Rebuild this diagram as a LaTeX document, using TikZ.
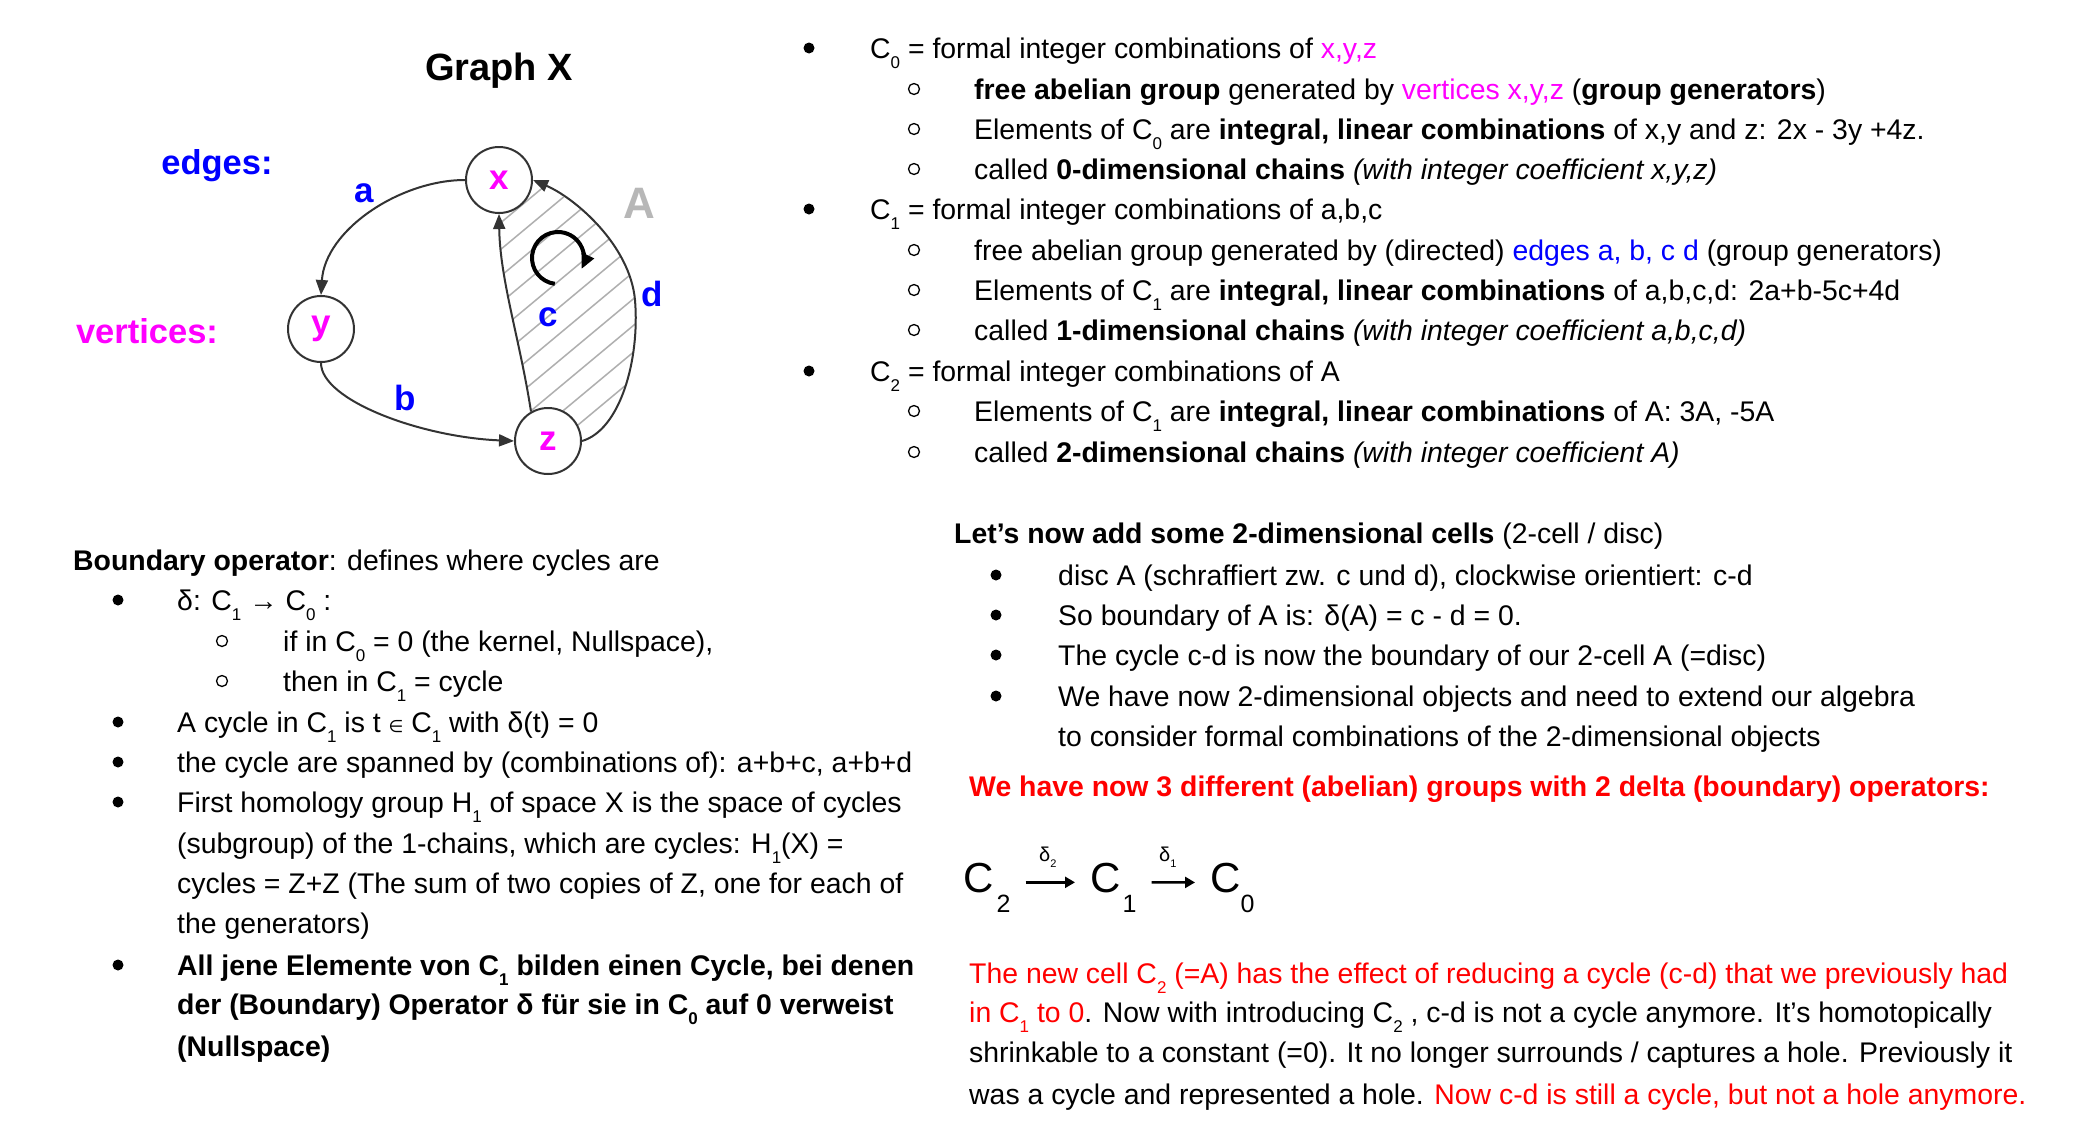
\documentclass[tikz,border=0pt]{standalone}
\usepackage{fontspec}
\setmainfont{Liberation Sans}
\newfontfamily\symfont{DejaVu Sans}
\usetikzlibrary{arrows.meta,backgrounds,calc}

\definecolor{mag}{RGB}{255,0,255}
\definecolor{blu}{RGB}{0,0,255}
\definecolor{rd}{RGB}{255,0,0}
\definecolor{edgegray}{RGB}{51,51,51}
\definecolor{hatchgray}{RGB}{175,175,175}
\definecolor{cellgray}{RGB}{183,183,183}

% lowered index as used in C_0, C_1, H_1
\newcommand{\lowsub}[1]{\raisebox{-10pt}{\fontsize{17}{17}\selectfont #1}}
\newcommand{\elem}{{\symfont\fontsize{17}{17}\selectfont ∈}}

\tikzset{
  body/.style={anchor=mid west, inner sep=0pt, yshift=-4pt, font=\fontsize{28.4}{40}\selectfont},
  dotb/.style={circle, fill=black, inner sep=0pt, minimum size=11pt, yshift=4pt},
  ringb/.style={circle, draw=black, line width=1.3pt, inner sep=0pt, minimum size=11pt, yshift=4pt},
  vtx/.style={circle, draw=edgegray, line width=2pt, fill=white, minimum size=66pt,
    inner sep=0pt, text=mag, font=\fontsize{35}{35}\selectfont\bfseries},
  elabel/.style={text=blu, inner sep=0pt, font=\fontsize{35}{35}\selectfont\bfseries},
  kindlabel/.style={inner sep=0pt, font=\fontsize{34.5}{35}\selectfont\bfseries},
  edge/.style={draw=edgegray, line width=2pt, -{Triangle[length=15pt,width=12pt]}},
  hatch/.style={draw=hatchgray, line width=1.5pt},
  orient/.style={draw=black, line width=4pt, -{Triangle[length=15pt,width=13pt]}},
  bigC/.style={anchor=base west, inner sep=0pt, font=\fontsize{42}{42}\selectfont},
  chainarr/.style={draw=black, line width=2.4pt, shorten <=15pt, shorten >=15pt,
    -{Triangle[length=10pt,width=11pt]}},
  deltalbl/.style={anchor=base west, inner sep=0pt, font=\fontsize{20}{20}\selectfont},
}

\begin{document}
\begin{tikzpicture}[x=1pt, y=-1pt]
\begin{pgfonlayer}{background}
  \fill[white] (0,0) rectangle (2086,1130);
\end{pgfonlayer}
\path[use as bounding box] (0,0) rectangle (2086,1130);

% ---------------- Graph X ----------------
\node[kindlabel, font=\fontsize{38}{38}\selectfont\bfseries] (title) at (499,71) {Graph X};
\node[kindlabel, text=blu] (edges) at (217,166) {edges:};
\node[kindlabel, text=mag] (verts) at (147,331) {vertices:};

\node[vtx] (x) at (499,180) {x};
\node[vtx] (y) at (321,329) {y};
\node[vtx] (z) at (548,441) {z};

% 2-cell A between c and d, hatched
\begin{pgfonlayer}{background}
\begin{scope}
  \clip (z.center) -- (z.120) .. controls (520,340) and (500,280) .. (x.south)
        -- (x.center) -- (x.east) .. controls (575,198) and (630,245) .. (635,300)
        .. controls (640,360) and (620,430) .. (z.east) -- cycle;
  \foreach \k in {0,...,16} {
    \draw[hatch] (80+\k*32,520) -- ++(600,-500);
  }
\end{scope}
\end{pgfonlayer}

\draw[edge] (x.west) .. controls (400,180) and (325,230) .. (y.north);
\draw[edge] (y.south) .. controls (321,400) and (420,437) .. (z.west);
\draw[edge] (z.120) .. controls (520,340) and (500,280) .. (x.south);
\draw[edge] (z.east) .. controls (620,430) and (640,360) .. (635,300)
            .. controls (630,245) and (575,198) .. (x.east);

\node[elabel] (la) at (364,193) {a};
\node[elabel] (lb) at (405,398) {b};
\node[elabel] (lc) at (548,317) {c};
\node[elabel] (ld) at (652,294) {d};
\node[inner sep=0pt, text=cellgray, font=\fontsize{44}{44}\selectfont\bfseries] (lA) at (639,203) {A};

% clockwise orientation of A
\coordinate (rc) at (558,258);
\draw[orient] ($(rc)+(97:26)$) arc[start angle=97, end angle=385, radius=26];

% ---------------- chain groups ----------------
\node[dotb] (b1) at (809,52) {};
\node[body] (r1) at (870,52) {C\lowsub{0} = formal integer combinations of \textcolor{mag}{x,y,z}};
\node[ringb] (o2) at (914,93) {};
\node[body] (r2) at (974,93) {\textbf{free abelian group} generated by \textcolor{mag}{vertices x,y,z} (\textbf{group generators})};
\node[ringb] (o3) at (914,133) {};
\node[body] (r3) at (974,133) {Elements of C\lowsub{0} are \textbf{integral, linear combinations} of x,y and z: 2x - 3y +4z.};
\node[ringb] (o4) at (914,173) {};
\node[body] (r4) at (974,173) {called \textbf{0-dimensional chains} \textit{(with integer coefficient x,y,z)}};
\node[dotb] (b5) at (809,213) {};
\node[body] (r5) at (870,213) {C\lowsub{1} = formal integer combinations of a,b,c};
\node[ringb] (o6) at (914,254) {};
\node[body] (r6) at (974,254) {free abelian group generated by (directed) \textcolor{blu}{edges a, b, c d} (group generators)};
\node[ringb] (o7) at (914,294) {};
\node[body] (r7) at (974,294) {Elements of C\lowsub{1} are \textbf{integral, linear combinations} of a,b,c,d: 2a+b-5c+4d};
\node[ringb] (o8) at (914,334) {};
\node[body] (r8) at (974,334) {called \textbf{1-dimensional chains} \textit{(with integer coefficient a,b,c,d)}};
\node[dotb] (b9) at (809,375) {};
\node[body] (r9) at (870,375) {C\lowsub{2} = formal integer combinations of A};
\node[ringb] (o10) at (914,415) {};
\node[body] (r10) at (974,415) {Elements of C\lowsub{1} are \textbf{integral, linear combinations} of A: 3A, -5A};
\node[ringb] (o11) at (914,456) {};
\node[body] (r11) at (974,456) {called \textbf{2-dimensional chains} \textit{(with integer coefficient A)}};

% ---------------- boundary operator ----------------
\node[body] (l0) at (73,564) {\textbf{Boundary operator}: defines where cycles are};
\node[dotb] (lb1) at (118,604) {};
\node[body] (l1) at (177,604) {δ: C\lowsub{1} → C\lowsub{0} :};
\node[ringb] (lo2) at (222,645) {};
\node[body] (l2) at (283,645) {if in C\lowsub{0} = 0 (the kernel, Nullspace),};
\node[ringb] (lo3) at (222,685) {};
\node[body] (l3) at (283,685) {then in C\lowsub{1} = cycle};
\node[dotb] (lb4) at (118,726) {};
\node[body] (l4) at (177,726) {A cycle in C\lowsub{1} is t \elem{} C\lowsub{1} with δ(t) = 0};
\node[dotb] (lb5) at (118,766) {};
\node[body] (l5) at (177,766) {the cycle are spanned by (combinations of): a+b+c, a+b+d};
\node[dotb] (lb6) at (118,806) {};
\node[body] (l6) at (177,806) {First homology group H\lowsub{1} of space X is the space of cycles};
\node[body] (l7) at (177,847) {(subgroup) of the 1-chains, which are cycles: H\lowsub{1}(X) =};
\node[body] (l8) at (177,887) {cycles = Z+Z (The sum of two copies of Z, one for each of};
\node[body] (l9) at (177,927) {the generators)};
\node[dotb] (lb10) at (118,969) {};
\node[body] (l10) at (177,969) {\textbf{All jene Elemente von C\lowsub{1} bilden einen Cycle, bei denen}};
\node[body] (l11) at (177,1008) {\textbf{der (Boundary) Operator δ für sie in C\lowsub{0} auf 0 verweist}};
\node[body] (l12) at (177,1050) {\textbf{(Nullspace)}};

% ---------------- 2-cells ----------------
\node[body] (m0) at (954,537) {\textbf{Let’s now add some 2-dimensional cells} (2-cell / disc)};
\node[dotb] (mb1) at (996,579) {};
\node[body] (m1) at (1058,579) {disc A (schraffiert zw. c und d), clockwise orientiert: c-d};
\node[dotb] (mb2) at (996,619) {};
\node[body] (m2) at (1058,619) {So boundary of A is: δ(A) = c - d = 0.};
\node[dotb] (mb3) at (996,659) {};
\node[body] (m3) at (1058,659) {The cycle c-d is now the boundary of our 2-cell A (=disc)};
\node[dotb] (mb4) at (996,700) {};
\node[body] (m4) at (1058,700) {We have now 2-dimensional objects and need to extend our algebra};
\node[body] (m5) at (1058,740) {to consider formal combinations of the 2-dimensional objects};
\node[body, text=rd] (m6) at (969,790) {\textbf{We have now 3 different (abelian) groups with 2 delta (boundary) operators:}};

% chain complex C2 -> C1 -> C0
\node[bigC] (c2) at (963,892) {C\kern3pt\raisebox{-20pt}{\fontsize{25}{25}\selectfont 2}};
\node[bigC] (c1) at (1090,892) {C\kern2pt\raisebox{-20pt}{\fontsize{25}{25}\selectfont 1}};
\node[bigC] (c0) at (1210,892) {C\kern0pt\raisebox{-20pt}{\fontsize{25}{25}\selectfont 0}};
\draw[chainarr] ([yshift=5pt]c2.east) -- ([yshift=5pt]c1.west);
\draw[chainarr] ([yshift=5pt]c1.east) -- ([yshift=5pt]c0.west);
\node[deltalbl] (d2) at (1039,861) {δ\raisebox{-6pt}{\fontsize{11}{11}\selectfont 2}};
\node[deltalbl] (d1) at (1159,861) {δ\raisebox{-6pt}{\fontsize{11}{11}\selectfont 1}};

% closing remark
\node[body] (p1) at (969,977) {\textcolor{rd}{The new cell C\lowsub{2} (=A) has the effect of reducing a cycle (c-d) that we previously had}};
\node[body] (p2) at (969,1016) {\textcolor{rd}{in C\lowsub{1} to 0}. Now with introducing C\lowsub{2} , c-d is not a cycle anymore. It’s homotopically};
\node[body] (p3) at (969,1056) {shrinkable to a constant (=0). It no longer surrounds / captures a hole. Previously it};
\node[body] (p4) at (969,1098) {was a cycle and represented a hole. \textcolor{rd}{Now c-d is still a cycle, but not a hole anymore.}};
\end{tikzpicture}
\end{document}
